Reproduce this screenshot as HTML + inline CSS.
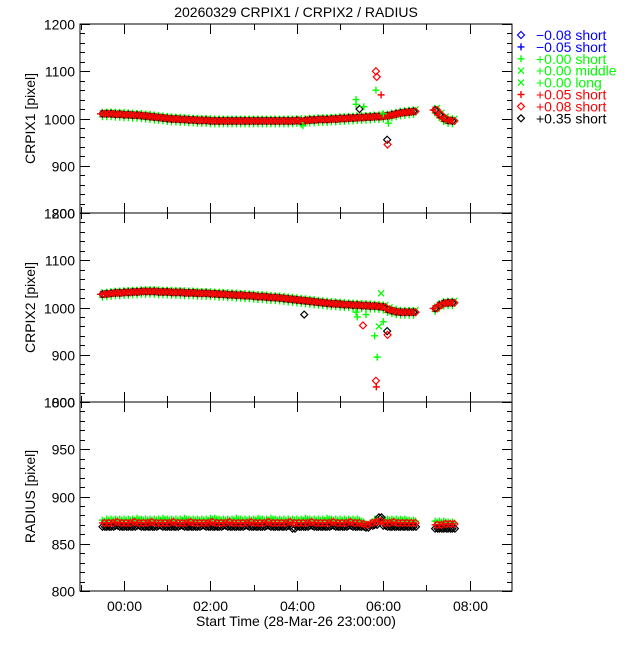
<!DOCTYPE html>
<html><head><meta charset="utf-8"><style>
body{margin:0;background:#fff}
svg text{font-family:"Liberation Sans",sans-serif;font-size:14px}
</style></head><body>
<svg id="c" width="640" height="640" xmlns="http://www.w3.org/2000/svg"></svg>
<script>
const times=[-0.5,-0.4,-0.3,-0.2,-0.1,0.0,0.1,0.2,0.3,0.4,0.5,0.6,0.7,0.8,0.9,1.0,1.1,1.2,1.3,1.4,1.5,1.6,1.7,1.8,1.9,2.0,2.1,2.2,2.3,2.4,2.5,2.6,2.7,2.8,2.9,3.0,3.1,3.2,3.3,3.4,3.5,3.6,3.7,3.8,3.9,4.0,4.1,4.2,4.3,4.4,4.5,4.6,4.7,4.8,4.9,5.0,5.1,5.2,5.3,5.4,5.5,5.6,5.7,5.8,5.9,6.0,6.1,6.2,6.3,6.4,6.5,6.6,6.7,7.2,7.3,7.4,7.5,7.6];
const crpix1=[1010,1010,1010,1009,1009,1008,1008,1007,1007,1006,1005,1004,1003,1002,1001,1000,999,999,998,998,997,997,996,996,996,995,995,995,995,995,995,995,995,995,995,995,995,995,995,995,995,995,995,995,995,996,994,996,997,997,998,998,998,999,999,1000,1000,1001,1001,1002,1002,1003,1003,1004,1004,1005,1006,1008,1010,1012,1013,1014,1015,1018,1008,1000,996,995];
const crpix2=[1028,1029,1030,1031,1031,1032,1032,1033,1033,1034,1034,1034,1034,1033,1033,1033,1032,1032,1032,1031,1031,1031,1030,1030,1030,1029,1029,1028,1028,1027,1027,1026,1026,1025,1025,1024,1023,1023,1022,1021,1021,1020,1019,1018,1017,1016,1015,1014,1013,1012,1011,1010,1009,1008,1008,1007,1006,1006,1005,1005,1004,1004,1003,1003,1002,1001,996,993,991,990,990,990,990,998,1005,1009,1010,1010];
const radGreen=[875,876,876,876,876,876,876,876,877,876,876,876,876,876,877,876,876,876,876,877,876,876,876,876,876,877,877,876,876,876,876,877,876,876,876,876,877,876,876,877,876,876,876,876,876,876,876,877,876,876,876,876,877,876,876,876,876,876,876,876,874,871,872,876,875,876,876,876,876,876,876,875,875,874,874,874,873,873];
const radRed=[872,872,872,873,872,872,872,873,872,872,872,873,872,872,872,872,873,872,872,872,873,872,872,872,872,873,872,872,872,873,872,872,872,872,873,872,872,872,873,872,872,872,872,873,872,872,872,872,873,872,872,872,872,873,872,872,872,873,872,872,871,870,872,873,874,872,872,873,872,872,872,872,872,870,870,871,871,871];
const radBlack=[868,868,868,869,868,868,868,868,869,868,868,868,868,869,868,868,868,868,869,868,868,868,868,869,868,868,868,868,869,868,868,868,868,869,868,868,868,868,869,868,868,868,868,869,866,868,868,868,869,868,868,868,868,869,868,868,868,869,868,868,868,867,869,870,878,869,868,868,868,868,868,868,868,866,866,866,866,866];
const out1T=[4.14,5.37,5.37,5.45,5.55,5.83,5.85,5.83,5.95,6.0,6.09,6.1,6.12];
const out1V=[985,1040,1030,1020,1025,1100,1088,1060,1050,1010,955,945,990];
const out1S=["g","g","g","k","g","r","r","g","rp","g","k","r","g"];
const out2T=[4.17,5.37,5.4,5.53,5.6,5.83,5.84,5.86,5.8,5.95,6.09,6.1,6.0,5.9];
const out2V=[985,990,980,962,985,845,832,895,940,1030,950,942,970,960];
const out2S=["k","g","g","r","g","r","rp","g","g","gx","k","r","g","gx"];
const legendLabels=["\u22120.08 short","\u22120.05 short","+0.00 short","+0.00 middle","+0.00 long","+0.05 short","+0.08 short","+0.35 short"];
const legendColors=["#0000ff","#0000ff","#00ff00","#00ff00","#00ff00","#ff0000","#ff0000","#000000"];
const legendSyms=["d","p","p","x","x","p","d","d"];

const NS="http://www.w3.org/2000/svg";
const svg=document.getElementById('c');
const X0=80,X1=512,T0=-1.02,T1=8.98;
function xs(t){return X0+(t-T0)/(T1-T0)*(X1-X0);}
const panels=[{top:24,bot:213,lo:800,hi:1200,maj:100,min:20,title:"CRPIX1 [pixel]"},{top:213,bot:402,lo:800,hi:1200,maj:100,min:20,title:"CRPIX2 [pixel]"},{top:402,bot:591,lo:800,hi:1000,maj:50,min:10,title:"RADIUS [pixel]"}];
function ys(p,v){return p.bot-(v-p.lo)/(p.hi-p.lo)*(p.bot-p.top);}
function el(tag,attrs,parent){const e=document.createElementNS(NS,tag);for(const k in attrs)e.setAttribute(k,attrs[k]);(parent||svg).appendChild(e);return e;}
function sym(g,type,x,y,col){
  let e;
  if(type==="d"){e=el('path',{d:`M${x} ${y-3.5}L${x+3.5} ${y}L${x} ${y+3.5}L${x-3.5} ${y}Z`,fill:'none',stroke:col,'stroke-width':1.2},g);}
  else if(type==="p"){e=el('path',{d:`M${x-3.5} ${y}H${x+3.5}M${x} ${y-3.5}V${y+3.5}`,stroke:col,'stroke-width':1.4,fill:'none'},g);}
  else {e=el('path',{d:`M${x-3} ${y-3}L${x+3} ${y+3}M${x-3} ${y+3}L${x+3} ${y-3}`,stroke:col,'stroke-width':1.3,fill:'none'},g);}
  
  
}
function symFor(s){return {g:["p","#00ff00"],gx:["x","#00ff00"],k:["d","#000000"],r:["d","#ff0000"],rp:["p","#ff0000"]}[s];}

panels.forEach((p,i)=>{
  const g=el('g',{});
  
  
  const pl=el('g',{'clip-path':'url(#cl'+i+')'},g);
  const cp=el('clipPath',{id:'cl'+i},g);el('rect',{x:X0,y:p.top,width:X1-X0,height:p.bot-p.top},cp);
  if(i<2){
    const vals=i===0?crpix1:crpix2;
    times.forEach((t,j)=>{const x=xs(t),y=ys(p,vals[j]);
      sym(pl,"p",x,y+3,"#00ff00");sym(pl,"x",x+2,y-2,"#00ff00");});
    times.forEach((t,j)=>{sym(pl,"d",xs(t),ys(p,vals[j]),"#000000");});
    times.forEach((t,j)=>{sym(pl,"d",xs(t)+2,ys(p,vals[j]),"#ff0000");sym(pl,"p",xs(t)-2,ys(p,vals[j]),"#ff0000");});
    const oT=i===0?out1T:out2T,oV=i===0?out1V:out2V,oS=i===0?out1S:out2S;
    oT.forEach((t,j)=>{const s=symFor(oS[j]);sym(pl,s[0],xs(t),ys(p,oV[j]),s[1]);});
  } else {
    times.forEach((t,j)=>{sym(pl,"p",xs(t),ys(p,radGreen[j]),"#00ff00");sym(pl,"p",xs(t)+2,ys(p,radGreen[j])+1,"#00ff00");});
    times.forEach((t,j)=>{sym(pl,"d",xs(t),ys(p,radBlack[j]),"#000000");sym(pl,"d",xs(t)+2.5,ys(p,radBlack[j]),"#000000");});
    times.forEach((t,j)=>{sym(pl,"p",xs(t),ys(p,radRed[j]),"#ff0000");sym(pl,"d",xs(t)+2,ys(p,radRed[j]),"#ff0000");});
  }
  el('rect',{x:X0,y:p.top,width:X1-X0,height:p.bot-p.top,fill:'none',stroke:'#000','stroke-width':1},g);
  for(let v=p.lo;v<=p.hi;v+=p.min){
    const y=Math.round(ys(p,v))+0.5;const L=(v-p.lo)%p.maj===0?10:5;
    el('path',{d:`M${X0} ${y}h${L}M${X1} ${y}h${-L}`,stroke:'#000','stroke-width':1},g);
    if((v-p.lo)%p.maj===0){const tx=el('text',{x:75,y:y+5,'text-anchor':'end'},g);tx.textContent=v;
      }
  }
  for(let h=-1;h<=9;h++){
    const x=Math.round(xs(h))+0.5;if(x<X0||x>X1)continue;
    const L=h%2===0?10:6;
    el('path',{d:`M${x} ${p.bot}v${-L}M${x} ${p.top}v${L}`,stroke:'#000','stroke-width':1},g);
    if(i===2&&h%2===0){const tx=el('text',{x:x,y:611,'text-anchor':'middle'},g);tx.textContent=(h<10?'0':'')+h+':00';
      }
  }
  const yt=el('text',{x:0,y:0,'text-anchor':'middle',transform:`translate(35,${(p.top+p.bot)/2}) rotate(-90)`},g);
  yt.textContent=p.title;
  
  
});
const title=el('text',{x:296,y:17,'text-anchor':'middle','font-size':'16'});
title.textContent="20260329 CRPIX1 / CRPIX2 / RADIUS";


const xt=el('text',{x:296,y:626,'text-anchor':'middle'});
xt.textContent="Start Time (28-Mar-26 23:00:00)";


const lg=el('g',{});


legendLabels.forEach((lab,k)=>{
  const y=35+k*11.9;
  const ge=el('g',{},lg);
  
  
  sym(ge,legendSyms[k],521,y,legendColors[k]);
  const t=el('text',{x:536,y:y+5,fill:legendColors[k]},ge);t.textContent=lab;
});
</script>
</body></html>
